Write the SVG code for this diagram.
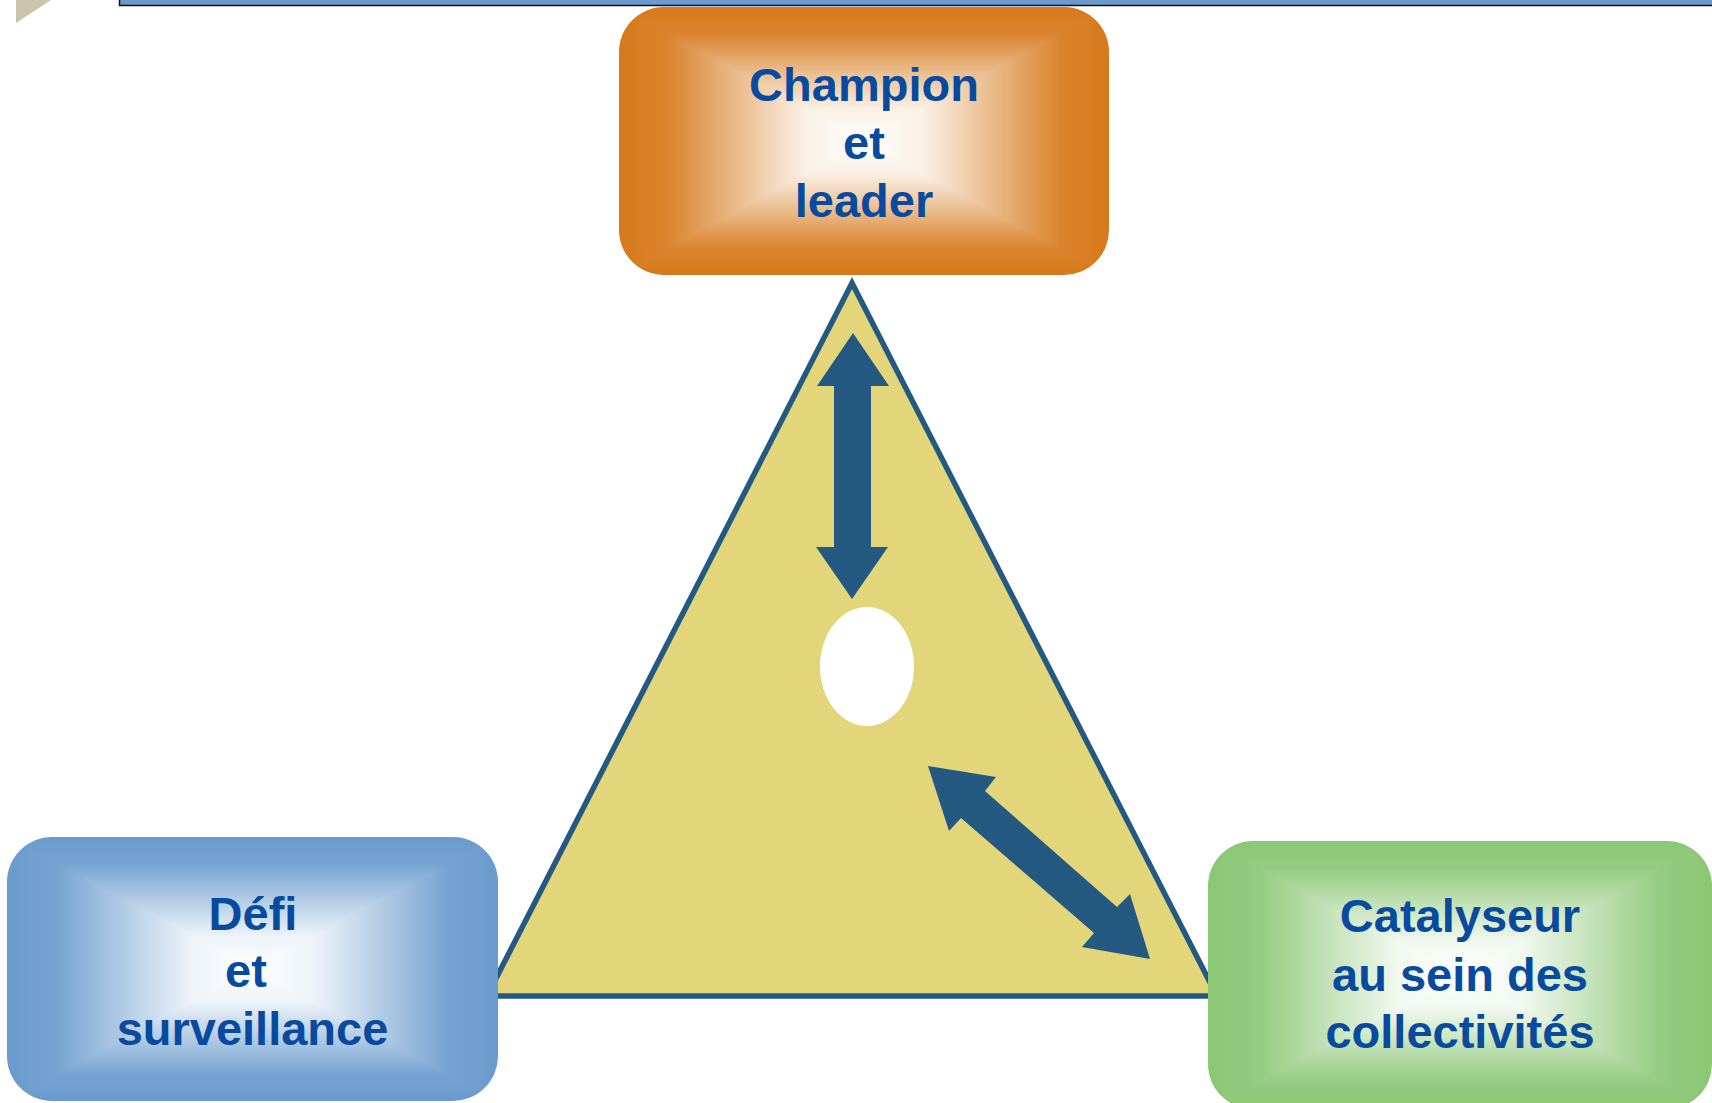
<svg xmlns="http://www.w3.org/2000/svg" width="1712" height="1103" viewBox="0 0 1712 1103">
<style>
.lbl{font-family:"Liberation Sans",Arial,sans-serif;font-weight:bold;font-size:47px;fill:#084B9E;text-anchor:middle}
.ov polygon{shape-rendering:crispEdges}
.arrow{fill:#245A82}
</style>
<defs>
<linearGradient id="gT" x1="0" y1="0" x2="0" y2="1">
<stop offset="0" stop-color="#fff" stop-opacity="0"/><stop offset="0.2" stop-color="#fff" stop-opacity="0.08"/><stop offset="0.5" stop-color="#fff" stop-opacity="0.52"/><stop offset="0.75" stop-color="#fff" stop-opacity="0.88"/><stop offset="1" stop-color="#fff" stop-opacity="1"/>
</linearGradient>
<linearGradient id="gB" x1="0" y1="1" x2="0" y2="0">
<stop offset="0" stop-color="#fff" stop-opacity="0"/><stop offset="0.2" stop-color="#fff" stop-opacity="0.08"/><stop offset="0.5" stop-color="#fff" stop-opacity="0.52"/><stop offset="0.75" stop-color="#fff" stop-opacity="0.88"/><stop offset="1" stop-color="#fff" stop-opacity="1"/>
</linearGradient>
<linearGradient id="gL" x1="0" y1="0" x2="1" y2="0">
<stop offset="0" stop-color="#fff" stop-opacity="0"/><stop offset="0.2" stop-color="#fff" stop-opacity="0.08"/><stop offset="0.5" stop-color="#fff" stop-opacity="0.52"/><stop offset="0.75" stop-color="#fff" stop-opacity="0.88"/><stop offset="1" stop-color="#fff" stop-opacity="1"/>
</linearGradient>
<linearGradient id="gR" x1="1" y1="0" x2="0" y2="0">
<stop offset="0" stop-color="#fff" stop-opacity="0"/><stop offset="0.2" stop-color="#fff" stop-opacity="0.08"/><stop offset="0.5" stop-color="#fff" stop-opacity="0.52"/><stop offset="0.75" stop-color="#fff" stop-opacity="0.88"/><stop offset="1" stop-color="#fff" stop-opacity="1"/>
</linearGradient>
<clipPath id="cO"><rect x="619" y="7" width="490" height="268" rx="45"/></clipPath>
<clipPath id="cB"><rect x="7" y="837" width="491" height="264" rx="45"/></clipPath>
<clipPath id="cG"><rect x="1208" y="841" width="504" height="268" rx="45"/></clipPath>
</defs>
<rect width="1712" height="1103" fill="#fff"/>
<polygon points="16,0 51,0 16,23" fill="#C9C4AA"/>
<rect x="119.5" y="-10" width="1610" height="15.5" fill="#6A9BCC" stroke="#111" stroke-width="1.5"/>
<g id="triangle">
<polygon points="852,283 1217,996 487,996" fill="#E3D67A" stroke="#245A82" stroke-width="5.5" stroke-linejoin="miter"/>
<ellipse cx="867" cy="666.5" rx="47" ry="59.5" fill="#fff"/>
</g>
<g id="connectors">
<polygon class="arrow" points="853,333 889,386 871,386 871,547 888,547 852,599 816,547 834,547 834,386 817,386"/>
<polygon class="arrow" points="928,766 996,777 985,791 1117,907 1130,894 1150,959 1082,947 1094,933 961,818 949,831"/>
</g>
<g id="node-champion">
<rect x="619" y="7" width="490" height="268" rx="45" fill="#D7791B"/>
<g clip-path="url(#cO)" class="ov">
<polygon points="619,7 1109,7 864,141" fill="url(#gT)"/>
<polygon points="619,275 1109,275 864,141" fill="url(#gB)"/>
<polygon points="619,7 864,141 619,275" fill="url(#gL)"/>
<polygon points="1109,7 864,141 1109,275" fill="url(#gR)"/>
</g>
<text class="lbl" x="864" y="101">Champion</text>
<text class="lbl" x="864" y="159">et</text>
<text class="lbl" x="864" y="217">leader</text>
</g>
<g id="node-defi">
<rect x="7" y="837" width="491" height="264" rx="45" fill="#6A9BCD"/>
<g clip-path="url(#cB)" class="ov">
<polygon points="7,837 498,837 252.5,969" fill="url(#gT)"/>
<polygon points="7,1101 498,1101 252.5,969" fill="url(#gB)"/>
<polygon points="7,837 252.5,969 7,1101" fill="url(#gL)"/>
<polygon points="498,837 252.5,969 498,1101" fill="url(#gR)"/>
</g>
<text class="lbl" x="253" y="930">Défi</text>
<text class="lbl" x="246" y="987">et</text>
<text class="lbl" x="252.5" y="1045">surveillance</text>
</g>
<g id="node-catalyseur">
<rect x="1208" y="841" width="504" height="268" rx="45" fill="#8BC775"/>
<g clip-path="url(#cG)" class="ov">
<polygon points="1208,841 1712,841 1460,975" fill="url(#gT)"/>
<polygon points="1208,1109 1712,1109 1460,975" fill="url(#gB)"/>
<polygon points="1208,841 1460,975 1208,1109" fill="url(#gL)"/>
<polygon points="1712,841 1460,975 1712,1109" fill="url(#gR)"/>
</g>
<text class="lbl" x="1460" y="932">Catalyseur</text>
<text class="lbl" x="1460" y="991">au sein des</text>
<text class="lbl" x="1460" y="1048">collectivités</text>
</g>
</svg>
